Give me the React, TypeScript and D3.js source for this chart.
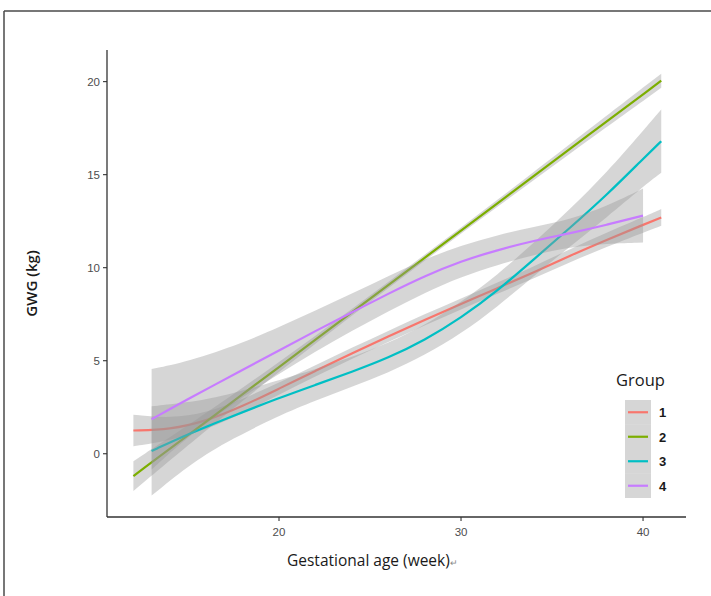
import React from "react";
import * as d3 from "d3";

// ---- Data ----
const groups = ["1", "2", "3", "4"];
const colors = ["#F8766D", "#7CAE00", "#00BFC4", "#C77CFF"];

const weeks1 = [12, 14, 16, 18, 20, 22, 24, 26, 28, 30, 32, 34, 36, 38, 40, 41];
const fit1 = [1.25, 1.3, 1.75, 2.55, 3.5, 4.45, 5.4, 6.3, 7.2, 8.05, 8.9, 9.75, 10.65, 11.5, 12.3, 12.7];
const ci1 = [0.85, 0.6, 0.45, 0.38, 0.33, 0.3, 0.3, 0.3, 0.3, 0.3, 0.3, 0.32, 0.35, 0.38, 0.42, 0.45];

const weeks2 = [12, 16, 20, 24, 28, 32, 36, 41];
const fit2 = [-1.2, 1.73, 4.66, 7.6, 10.53, 13.46, 16.4, 20.05];
const ci2 = [0.8, 0.45, 0.25, 0.18, 0.15, 0.18, 0.25, 0.38];

const weeks3 = [13, 15, 17, 20, 22, 24, 26, 28, 30, 32, 34, 36, 38, 40, 41];
const fit3 = [0.15, 1.05, 1.85, 3.0, 3.7, 4.4, 5.15, 6.1, 7.3, 8.75, 10.45, 12.15, 13.9, 15.85, 16.8];
const ci3 = [2.4, 1.7, 1.25, 0.95, 0.85, 0.8, 0.8, 0.8, 0.85, 0.85, 0.9, 1.0, 1.2, 1.5, 1.7];

const weeks4 = [13, 15, 18, 20, 22, 24, 26, 28, 30, 32, 34, 36, 38, 40];
const fit4 = [1.85, 2.95, 4.5, 5.55, 6.6, 7.6, 8.6, 9.55, 10.35, 10.95, 11.45, 11.85, 12.3, 12.8];
const ci4 = [2.7, 2.0, 1.45, 1.25, 1.1, 1.0, 0.95, 0.9, 0.85, 0.8, 0.75, 0.75, 1.0, 1.45];

const xTicks = [20, 30, 40];
const yTicks = [0, 5, 10, 15, 20];

const xTitle = "Gestational age (week)";
const yTitle = "GWG (kg)";
const legendTitle = "Group";

const series = [
  { w: weeks1, f: fit1, c: ci1 },
  { w: weeks2, f: fit2, c: ci2 },
  { w: weeks3, f: fit3, c: ci3 },
  { w: weeks4, f: fit4, c: ci4 },
];

export default function App() {
  const W = 711, H = 596;
  const left = 107, right = 686, top = 50, bottom = 517;
  const x = d3.scaleLinear().domain([10.55, 42.36]).range([left, right]);
  const y = d3.scaleLinear().domain([-3.4, 21.7]).range([bottom, top]);

  const line = d3
    .line<[number, number]>()
    .x((d) => x(d[0]))
    .y((d) => y(d[1]))
    .curve(d3.curveBasis);
  const area = d3
    .area<[number, number, number]>()
    .x((d) => x(d[0]))
    .y0((d) => y(d[1] - d[2]))
    .y1((d) => y(d[1] + d[2]))
    .curve(d3.curveBasis);

  const tickFont = "'Liberation Sans', Arial, sans-serif";
  const titleFont = "'Open Sans', 'Noto Sans', sans-serif";

  const legX = 625, legY = 400, keyH = 24.5, keyW = 26;

  return (
    <svg
      width={W}
      height={H}
      style={{ position: "absolute", left: 0, top: 0, background: "#fff" }}
    >
      <rect x={0} y={0} width={W} height={H} fill="#fff" />
      {/* frame */}
      <line x1={4} y1={11} x2={W} y2={11} stroke="#4a4a4a" strokeWidth={1.5} />
      <line x1={4} y1={11} x2={4} y2={H} stroke="#4a4a4a" strokeWidth={1.5} />

      {/* series: ribbon then line, per group */}
      {series.map((s, i) => {
        const pts: [number, number][] = s.w.map((wk, j) => [wk, s.f[j]]);
        const band: [number, number, number][] = s.w.map((wk, j) => [wk, s.f[j], s.c[j]]);
        return (
          <g key={groups[i]}>
            <path d={area(band) || ""} fill="#999999" fillOpacity={0.4} stroke="none" />
            <path d={line(pts) || ""} fill="none" stroke={colors[i]} strokeWidth={2.2} />
          </g>
        );
      })}

      {/* axes */}
      <line x1={left} y1={bottom} x2={right} y2={bottom} stroke="#333" strokeWidth={1.3} />
      <line x1={left} y1={top} x2={left} y2={bottom} stroke="#333" strokeWidth={1.3} />
      {xTicks.map((t) => (
        <g key={"x" + t}>
          <line x1={x(t)} x2={x(t)} y1={bottom} y2={bottom + 4} stroke="#333" strokeWidth={1.1} />
          <text
            x={x(t)}
            y={bottom + 19}
            textAnchor="middle"
            fontFamily={tickFont}
            fontSize={11.5}
            fill="#4d4d4d"
          >
            {t}
          </text>
        </g>
      ))}
      {yTicks.map((t) => (
        <g key={"y" + t}>
          <line x1={left - 4} x2={left} y1={y(t)} y2={y(t)} stroke="#333" strokeWidth={1.1} />
          <text
            x={left - 7}
            y={y(t) + 4}
            textAnchor="end"
            fontFamily={tickFont}
            fontSize={11.5}
            fill="#4d4d4d"
          >
            {t}
          </text>
        </g>
      ))}

      {/* axis titles */}
      <text x={287} y={566} fontFamily={titleFont} fontSize={15.5} fill="#1a1a1a">
        {xTitle}
        <tspan fontSize={9} fill="#888">↵</tspan>
      </text>
      <text
        transform={`translate(37, ${(top + bottom) / 2}) rotate(-90)`}
        textAnchor="middle"
        fontFamily={titleFont}
        fontWeight={600}
        fontSize={15}
        fill="#1a1a1a"
      >
        {yTitle}
      </text>

      {/* legend */}
      <text x={616} y={386} fontFamily={titleFont} fontSize={16.5} fill="#1a1a1a">
        {legendTitle}
      </text>
      {groups.map((g, i) => {
        const cy = legY + keyH * i + keyH / 2;
        return (
          <g key={"leg" + g}>
            <rect x={legX} y={legY + keyH * i} width={keyW} height={keyH} fill="#999999" fillOpacity={0.4} />
            <line x1={legX + 3} x2={legX + keyW - 3} y1={cy} y2={cy} stroke={colors[i]} strokeWidth={2.2} />
            <text
              x={legX + keyW + 8}
              y={cy + 5}
              fontFamily={tickFont}
              fontWeight={700}
              fontSize={13}
              fill="#1a1a1a"
            >
              {g}
            </text>
          </g>
        );
      })}
    </svg>
  );
}
